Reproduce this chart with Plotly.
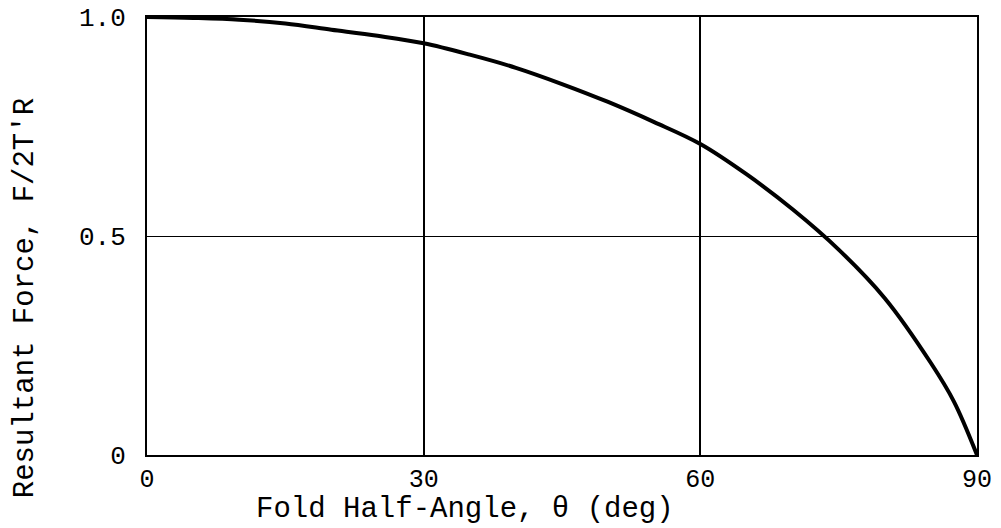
import plotly.graph_objects as go

theta = [0, 5, 10, 15, 20, 25, 30, 35, 40, 45, 50, 55, 60, 65, 70, 75, 80, 85, 87.5, 90]
force = [1.0, 0.998, 0.994, 0.985, 0.971, 0.957, 0.940, 0.914, 0.884, 0.847, 0.806, 0.760, 0.710,
         0.641, 0.561, 0.469, 0.358, 0.210, 0.122, 0.0]

x_ticks = [0, 30, 60, 90]
x_ticktext = ["0", "30", "60", "90"]
y_ticks = [0, 0.5, 1.0]
y_ticktext = ["0", "0.5", "1.0"]

font = "Liberation Mono, Courier New, monospace"

fig = go.Figure()
fig.add_trace(go.Scatter(x=theta, y=force, mode="lines",
                         line=dict(color="black", width=4, shape="spline", smoothing=1.0),
                         showlegend=False, hoverinfo="skip"))

fig.update_layout(
    width=1001, height=528,
    margin=dict(l=147, r=24, t=17, b=73),
    paper_bgcolor="white", plot_bgcolor="white",
    font=dict(family=font, size=25, color="black"),
    xaxis=dict(range=[0, 90], tickvals=x_ticks, ticktext=x_ticktext,
               showgrid=True, gridcolor="black", gridwidth=2,
               showline=True, linecolor="black", linewidth=2, mirror=True,
               zeroline=False, ticks="", ticklabelstandoff=0, automargin=False,
               tickfont=dict(family=font, size=25)),
    yaxis=dict(range=[0, 1.0], tickvals=y_ticks, ticktext=y_ticktext,
               showgrid=True, gridcolor="black", gridwidth=1,
               showline=True, linecolor="black", linewidth=2, mirror=True,
               zeroline=False, ticks="", ticklabelstandoff=14, automargin=False,
               tickfont=dict(family=font, size=26)),
    annotations=[
        dict(text="Fold Half-Angle, θ (deg)", xref="paper", yref="paper",
             x=0.383, y=-0.124, xanchor="center", yanchor="middle",
             showarrow=False, font=dict(family=font, size=29)),
        dict(text="Resultant Force, F/2T'R", xref="paper", yref="paper",
             x=-0.147, y=0.358, xanchor="center", yanchor="middle", textangle=-90,
             showarrow=False, font=dict(family=font, size=29)),
    ],
)

fig.write_html("out.html")
